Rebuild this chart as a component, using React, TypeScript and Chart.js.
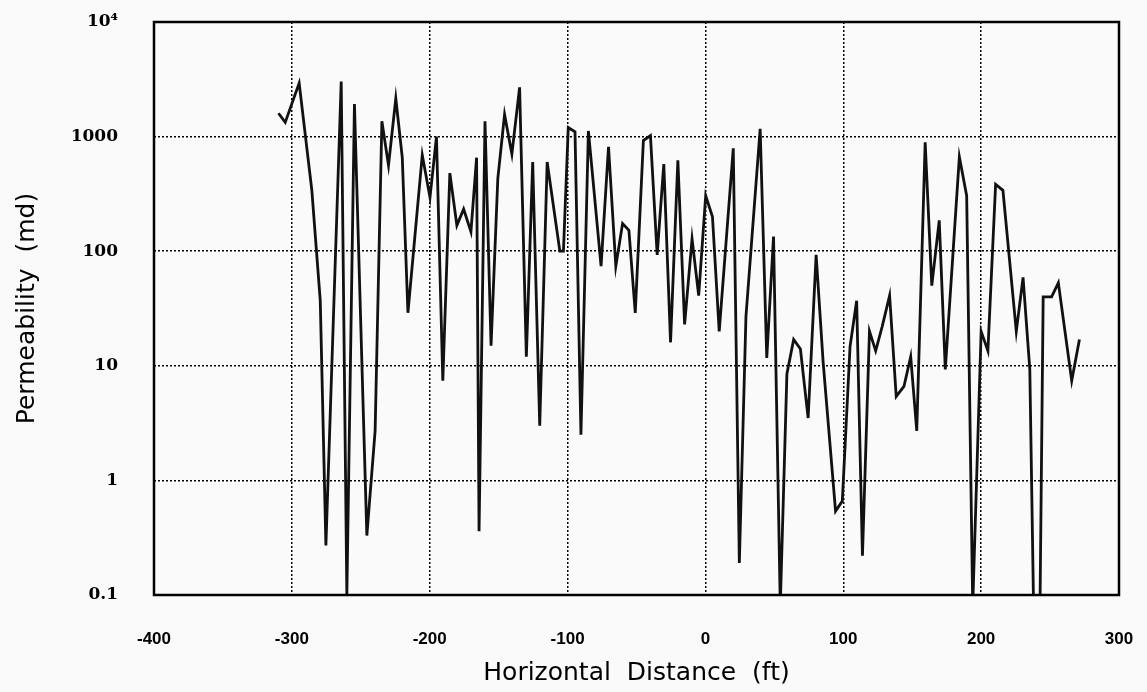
import { useEffect, useRef } from "react";
import { Chart, registerables } from "chart.js";

Chart.register(...registerables);

// Horizontal distance (ft) of each measurement
const distanceFt = [
  -309.7, -304.8, -294.7, -285.5, -279.4, -275.3, -264.2, -260.1, -254.6, -245.6,
  -239.6, -234.7, -229.9, -224.6, -219.9, -215.8, -205.4, -199.8, -195.1, -190.5,
  -185.4, -180.3, -175.4, -170.1, -166.0, -164.2, -159.9, -155.5, -150.6, -145.7,
  -140.4, -134.8, -129.9, -125.3, -120.2, -114.8, -105.6, -103.0, -99.5, -94.6,
  -90.3, -84.9, -75.7, -70.3, -65.0, -60.1, -55.5, -50.9, -45.0, -39.9,
  -35.0, -30.2, -25.3, -20.0, -15.1, -9.7, -4.9, 0.2, 5.1, 10.0,
  20.2, 24.6, 29.4, 39.7, 44.5, 49.4, 54.3, 59.1, 64.0, 68.9,
  74.5, 80.3, 85.4, 94.4, 99.3, 104.9, 109.7, 113.9, 119.0, 123.5,
  128.2, 133.6, 138.4, 144.0, 148.9, 153.3, 159.4, 164.2, 169.6, 174.0,
  184.2, 189.5, 193.9, 200.0, 204.9, 210.5, 215.8, 225.5, 230.4, 235.3,
  238.2, 242.6, 245.0, 251.1, 256.0, 265.7, 271.3,
];

// Permeability (md)
const permeabilityMd = [
  1600, 1330, 2930, 340, 37, 0.27, 3030, 0.1, 1920, 0.33,
  2.7, 1360, 560, 2150, 655, 29, 690, 294, 1000, 7.4,
  480, 168, 233, 148, 655, 0.36, 1360, 15, 430, 1560,
  705, 2690, 12, 600, 3.0, 600, 100, 100, 1200, 1100,
  2.5, 1120, 74, 815, 74, 174, 152, 29, 925, 1020,
  93, 575, 16, 620, 23, 128, 41, 305, 200, 20,
  790, 0.19, 27, 1170, 11.7, 134, 0.08, 8.5, 17, 14,
  3.5, 93, 10.7, 0.54, 0.66, 14.7, 37, 0.22, 20, 13.5,
  22, 41, 5.4, 6.6, 12, 2.7, 890, 50, 186, 9.3,
  665, 305, 0.08, 20, 13.5, 383, 340, 20, 59, 9.3,
  0.06, 0.06, 40, 40, 53, 7.4, 17,
];

const xTickValues = [-400, -300, -200, -100, 0, 100, 200, 300];
const yTickValues = [0.1, 1, 10, 100, 1000, 10000];
const yTickLabels = ["0.1", "1", "10", "100", "1000", "10\u2074"];
const xTitle = "Horizontal  Distance  (ft)";
const yTitle = "Permeability  (md)";

export default function App() {
  const ref = useRef<HTMLCanvasElement | null>(null);

  useEffect(() => {
    if (!ref.current) return;
    const framePlugin = {
      id: "frame",
      beforeDraw(chart: any) {
        const ctx = chart.ctx;
        ctx.save();
        ctx.fillStyle = "#fafafa";
        ctx.fillRect(0, 0, chart.width, chart.height);
        ctx.restore();
      },
      afterDatasetsDraw(chart: any) {
        const { left, top, right, bottom } = chart.chartArea;
        const ctx = chart.ctx;
        ctx.save();
        ctx.strokeStyle = "#000";
        ctx.lineWidth = 2.5;
        ctx.setLineDash([]);
        ctx.strokeRect(left, top, right - left, bottom - top);
        ctx.restore();
      },
    };

    const chart = new Chart(ref.current, {
      type: "line",
      data: {
        datasets: [
          {
            data: distanceFt.map((x, i) => ({ x, y: permeabilityMd[i] })),
            borderColor: "#111",
            borderWidth: 2.8,
            pointRadius: 0,
            tension: 0,
            fill: false,
          },
        ],
      },
      options: {
        animation: false,
        responsive: false,
        events: [],
        layout: { padding: { left: 0, top: 22, right: 28, bottom: 0 } },
        plugins: { legend: { display: false }, tooltip: { enabled: false } },
        scales: {
          x: {
            type: "linear",
            min: -400,
            max: 300,
            afterBuildTicks: (s: any) => {
              s.ticks = xTickValues.map((v) => ({ value: v }));
            },
            afterFit: (s: any) => {
              s.height = 97;
              s.paddingLeft = 0;
              s.paddingRight = 0;
              s.paddingTop = 0;
              s.paddingBottom = 0;
            },
            ticks: {
              color: "#000",
              padding: 34,
              maxRotation: 0,
              font: {
                family: '"Liberation Sans Narrow", "Liberation Sans", sans-serif',
                size: 17,
                weight: "bold",
              },
              callback: (v: any) => String(v),
            },
            grid: { color: "#000", lineWidth: 1.5, drawTicks: false },
            border: { display: false, dash: [2, 2] },
            title: {
              display: true,
              text: xTitle,
              color: "#000",
              font: { family: '"DejaVu Sans", sans-serif', size: 25 },
              padding: { top: 0, bottom: 4 },
            },
          },
          y: {
            type: "logarithmic",
            min: 0.1,
            max: 10000,
            afterBuildTicks: (s: any) => {
              s.ticks = yTickValues.map((v) => ({ value: v }));
            },
            afterFit: (s: any) => {
              s.width = 154;
              s.paddingLeft = 0;
              s.paddingRight = 0;
              s.paddingTop = 0;
              s.paddingBottom = 0;
            },
            ticks: {
              color: "#000",
              padding: 36,
              font: { family: '"DejaVu Serif", serif', size: 17, weight: "bold" },
              callback: (_v: any, i: number) => yTickLabels[i],
            },
            grid: { color: "#000", lineWidth: 1.5, drawTicks: false },
            border: { display: false, dash: [2, 2] },
            title: {
              display: true,
              text: yTitle,
              color: "#000",
              font: { family: '"DejaVu Sans", sans-serif', size: 25 },
              padding: { top: 12, bottom: 0 },
            },
          },
        },
      } as any,
      plugins: [framePlugin],
    });
    return () => chart.destroy();
  }, []);

  return (
    <div style={{ position: "absolute", left: 0, top: 0, width: 1147, height: 692 }}>
      <canvas ref={ref} width={1147} height={692} />
    </div>
  );
}
